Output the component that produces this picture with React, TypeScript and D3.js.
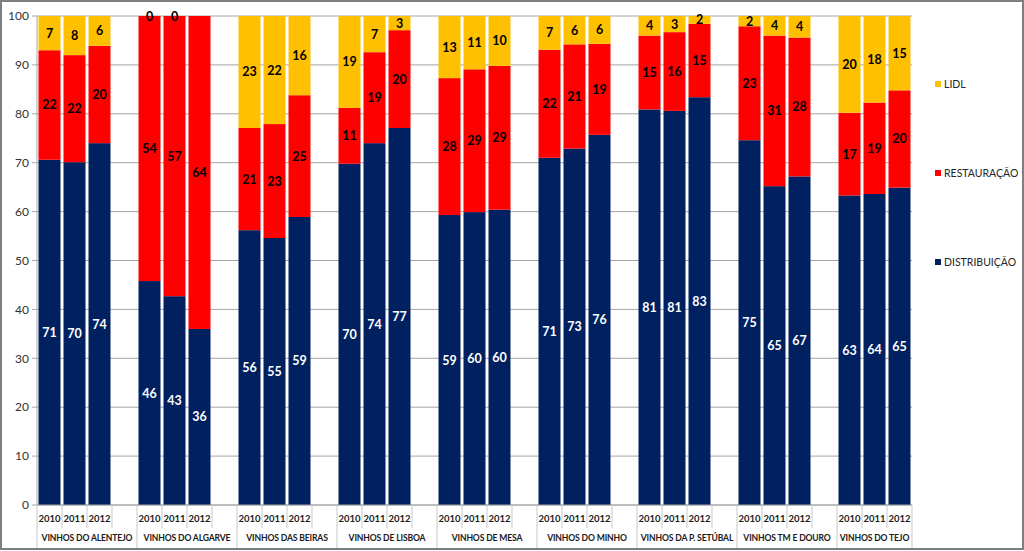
import React from "react";
import * as d3 from "d3";

const years = ["2010", "2011", "2012"];
const regions = [
  "VINHOS DO ALENTEJO",
  "VINHOS DO ALGARVE",
  "VINHOS DAS BEIRAS",
  "VINHOS DE LISBOA",
  "VINHOS DE MESA",
  "VINHOS DO MINHO",
  "VINHOS DA P. SETÚBAL",
  "VINHOS TM E DOURO",
  "VINHOS DO TEJO",
];
// values per region, per year
const distribuicao = [
  [70.6, 70.1, 74.0],
  [45.8, 42.7, 36.0],
  [56.2, 54.6, 58.9],
  [69.8, 74.0, 77.1],
  [59.3, 59.9, 60.4],
  [71.0, 72.9, 75.7],
  [80.9, 80.6, 83.4],
  [74.6, 65.2, 67.2],
  [63.3, 63.6, 64.9],
];
const restauracao = [
  [22.4, 21.9, 19.9],
  [54.2, 57.3, 64.0],
  [20.9, 23.3, 24.9],
  [11.4, 18.6, 20.0],
  [28.0, 29.2, 29.4],
  [22.1, 21.3, 18.6],
  [15.1, 16.1, 15.0],
  [23.3, 30.8, 28.4],
  [16.9, 18.7, 19.9],
];
const lidl: (number | null)[][] = [
  [7.0, 8.0, 6.1],
  [0, 0, null],
  [22.9, 22.1, 16.2],
  [18.8, 7.4, 2.9],
  [12.7, 10.9, 10.2],
  [6.9, 5.8, 5.7],
  [4.0, 3.3, 1.6],
  [2.1, 4.0, 4.4],
  [19.8, 17.7, 15.2],
];
const yTicks = [0, 10, 20, 30, 40, 50, 60, 70, 80, 90, 100];

const seriesDefs = [
  { name: "DISTRIBUIÇÃO", data: distribuicao, color: "#002060", text: "#ffffff" },
  { name: "RESTAURAÇÃO", data: restauracao, color: "#ff0000", text: "#000000" },
  { name: "LIDL", data: lidl, color: "#ffc000", text: "#000000" },
];

const FONT = "Lato, 'Open Sans', sans-serif";

export default function App() {
  const W = 1024;
  const H = 551;
  const left = 37;
  const right = 912;
  const top = 16;
  const bottom = 505;

  const slots: string[] = [];
  regions.forEach((r, i) => {
    years.forEach((y) => slots.push(`${i}|${y}`));
    if (i < regions.length - 1) slots.push(`${i}|blank`);
  });

  const x = d3
    .scaleBand<string>()
    .domain(slots)
    .range([left, right])
    .paddingInner(0.12)
    .paddingOuter(0.06);
  const step = x.step();
  const slotStart = (key: string) => (x(key) as number) - x.paddingOuter() * step;
  const y = d3.scaleLinear().domain([0, 100]).range([bottom, top]);

  const bars: React.ReactNode[] = [];
  const labels: React.ReactNode[] = [];
  regions.forEach((r, ri) => {
    years.forEach((yr, yi) => {
      const key = `${ri}|${yr}`;
      let acc = 0;
      seriesDefs.forEach((s, si) => {
        const v = s.data[ri][yi];
        if (v === null || v === undefined) return;
        const y0 = y(acc);
        const y1 = y(acc + v);
        acc += v;
        bars.push(
          <rect
            key={`b${ri}-${yi}-${si}`}
            x={x(key)}
            y={y1}
            width={x.bandwidth()}
            height={Math.max(0, y0 - y1)}
            fill={s.color}
          />
        );
        labels.push(
          <text
            key={`l${ri}-${yi}-${si}`}
            x={(x(key) as number) + x.bandwidth() / 2}
            y={(y0 + y1) / 2}
            dy="0.36em"
            textAnchor="middle"
            fontFamily={FONT}
            fontWeight={700}
            fontSize={12.5}
            fill={s.text}
          >
            {Math.round(v)}
          </text>
        );
      });
    });
  });

  const seps: React.ReactNode[] = [];
  const catLabels: React.ReactNode[] = [];
  regions.forEach((r, ri) => {
    const first = slotStart(`${ri}|2010`);
    const isLast = ri === regions.length - 1;
    const end = isLast ? right : slotStart(`${ri}|blank`) + step;
    seps.push(
      <line key={`gs${ri}`} x1={first} x2={first} y1={bottom} y2={549} stroke="#c8c8c8" strokeWidth={1} />
    );
    if (isLast)
      seps.push(
        <line key={`ge${ri}`} x1={end} x2={end} y1={bottom} y2={549} stroke="#c8c8c8" strokeWidth={1} />
      );
    years.forEach((yr, yi) => {
      const s = slotStart(`${ri}|${yr}`);
      if (yi > 0)
        seps.push(
          <line key={`ys${ri}-${yi}`} x1={s} x2={s} y1={bottom} y2={528} stroke="#c8c8c8" strokeWidth={1} />
        );
      catLabels.push(
        <text
          key={`yl${ri}-${yi}`}
          x={s + step / 2}
          y={522}
          textAnchor="middle"
          fontFamily={FONT}
          fontWeight={700}
          fontSize={9.5}
          fill="#1a1a1a"
        >
          {yr}
        </text>
      );
    });
    if (!isLast) {
      const s = slotStart(`${ri}|blank`);
      seps.push(
        <line key={`bs${ri}`} x1={s} x2={s} y1={bottom} y2={528} stroke="#c8c8c8" strokeWidth={1} />
      );
    }
    catLabels.push(
      <text
        key={`rl${ri}`}
        x={(first + end) / 2}
        y={541}
        textAnchor="middle"
        fontFamily={FONT}
        fontWeight={700}
        fontSize={8.6}
        letterSpacing={-0.15}
        fill="#1a1a1a"
      >
        {r}
      </text>
    );
  });

  const legendItems = [
    { name: "LIDL", color: "#ffc000", y: 84 },
    { name: "RESTAURAÇÃO", color: "#ff0000", y: 173 },
    { name: "DISTRIBUIÇÃO", color: "#002060", y: 262 },
  ];

  return (
    <svg
      width={W}
      height={H}
      style={{ position: "absolute", left: 0, top: 0, background: "#ffffff" }}
    >
      <rect x={0} y={0} width={W} height={H} fill="#ffffff" />
      {yTicks.map((t) => (
        <g key={`g${t}`}>
          <line x1={left} x2={right} y1={y(t)} y2={y(t)} stroke="#a6a6a6" strokeWidth={1} />
          <line x1={left - 5} x2={left} y1={y(t)} y2={y(t)} stroke="#a6a6a6" strokeWidth={1} />
          <text
            x={29}
            y={y(t)}
            dy="0.35em"
            textAnchor="end"
            fontFamily={FONT}
            fontSize={12}
            fill="#333333"
          >
            {t}
          </text>
        </g>
      ))}
      <line x1={left} x2={left} y1={top} y2={bottom} stroke="#a6a6a6" strokeWidth={1} />
      {bars}
      {labels}
      <line x1={left} x2={right} y1={bottom} y2={bottom} stroke="#a6a6a6" strokeWidth={1} />
      {seps}
      {catLabels}
      {legendItems.map((l) => (
        <g key={l.name}>
          <rect x={935} y={l.y - 3} width={6} height={6} fill={l.color} />
          <text
            x={944}
            y={l.y}
            dy="0.35em"
            fontFamily={FONT}
            fontSize={10.5}
            fill="#262626"
          >
            {l.name}
          </text>
        </g>
      ))}
      <rect x={1} y={1} width={W - 2} height={H - 3} fill="none" stroke="#7f7f7f" strokeWidth={2} />
    </svg>
  );
}
